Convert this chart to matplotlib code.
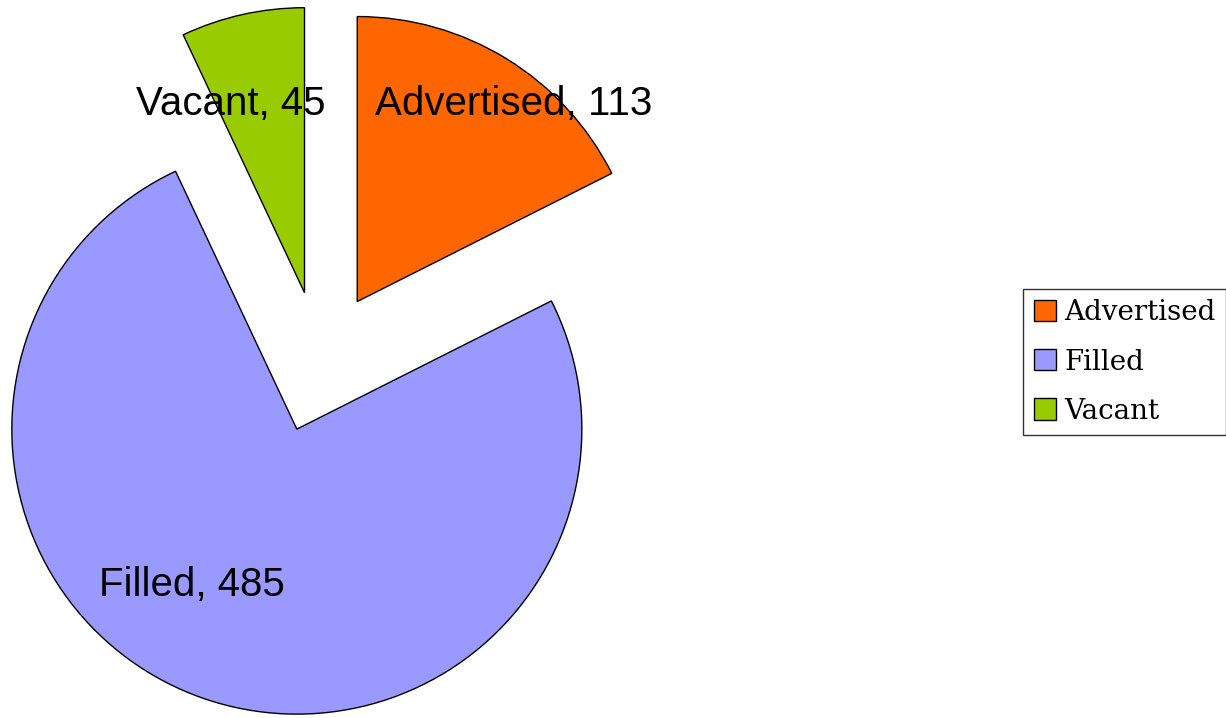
import matplotlib.pyplot as plt
from matplotlib.patches import Patch

# staffing positions by status
labels = ["Advertised", "Filled", "Vacant"]
counts = [113, 485, 45]
colors = ["#FF6600", "#9999FF", "#99CC00"]

W, H = 1226, 718
fig = plt.figure(figsize=(W / 100, H / 100), dpi=100)
ax = fig.add_axes([0, 0, 1, 1])

# pie drawn in pixel-like units so radius and offsets are easy to place
radius = 285
explode = [71, 71, 71]
wedges, _ = ax.pie(
    counts,
    colors=colors,
    radius=radius,
    center=(320, H - 362),
    explode=explode,
    startangle=90,
    counterclock=False,
    wedgeprops=dict(edgecolor="black", linewidth=1.0),
)
ax.set_xlim(0, W)
ax.set_ylim(0, H)
ax.set_aspect("equal")
ax.axis("off")

# data labels
label_pos = [(514, H - 104), (192, H - 585), (231, H - 104)]
for (x, y), name, n in zip(label_pos, labels, counts):
    ax.text(x, y, f"{name}, {n}", ha="center", va="center",
            fontsize=29, family="Liberation Sans", color="black")

handles = [Patch(facecolor=c, edgecolor="black", linewidth=1.0) for c in colors]
leg = fig.legend(
    handles, labels,
    loc="center left",
    bbox_to_anchor=(1023 / W, 1 - 362 / H),
    frameon=True,
    fancybox=False,
    prop={"family": "DejaVu Serif", "size": 20},
    handlelength=0.8,
    handleheight=0.8,
    handletextpad=0.3,
    labelspacing=0.8,
    borderpad=0.38,
    borderaxespad=0,
)
leg.get_frame().set_edgecolor("black")
leg.get_frame().set_linewidth(1.0)

fig.savefig("out.png", dpi=100)
